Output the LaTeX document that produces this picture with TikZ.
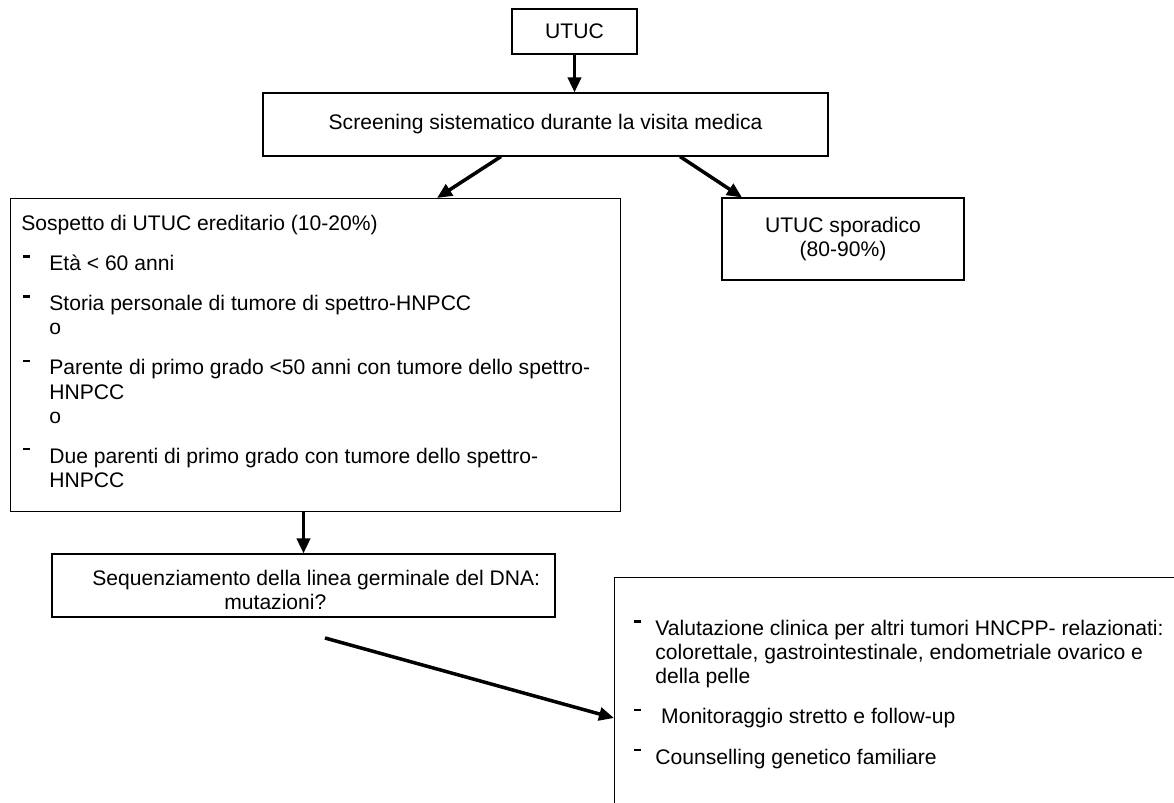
\documentclass[tikz,border=0pt]{standalone}
\usepackage{fontspec}
\setmainfont{Liberation Sans}
\usetikzlibrary{arrows.meta}
\usetikzlibrary{positioning}
\tikzset{box/.style = {draw, line width=0.6pt, inner sep=0pt},
         freccia/.style = {-{Triangle[length=0.3cm, width=0.26cm]}, line width=2pt},
         testo/.style = {inner sep=0pt, align=left, anchor=north west}}
\newcommand{\trattino}[1][0.56cm]{\makebox[#1][l]{\hspace{0.04cm}\rule[0.62em]{0.32em}{0.11em}}}
\newcommand{\rientro}[1][0.56cm]{\hspace*{#1}}

\begin{document}
\begin{tikzpicture}[font=\fontsize{12}{13.7}\selectfont]
    \useasboundingbox (0, 0) rectangle (23.48, -16.06);

    \node [box, minimum width=2.5cm, minimum height=0.9cm] (utuc) at (11.49, -0.63) {UTUC};
    \node [box, minimum width=11.3cm, minimum height=1.26cm] (screening) at (10.91, -2.49)
        {Screening sistematico durante la visita medica};
    \draw [freccia] (utuc.south) -- (utuc.south |- screening.north);

    % sospetto ereditario
    \node [box, anchor=north west, minimum width=12.2cm, minimum height=6.26cm] (ereditario) at (0.2, -3.96) {};
    \node [testo] (sospetto) at (0.42, -4.3)
        {Sospetto di UTUC ereditario (10-20\%)\\[0.32cm]
        \trattino Età < 60 anni\\[0.32cm]
        \trattino Storia personale di tumore di spettro-HNPCC\\
        \rientro o\\[0.32cm]
        \trattino Parente di primo grado <50 anni con tumore dello spettro-\\
        \rientro HNPCC\\
        \rientro o\\[0.32cm]
        \trattino Due parenti di primo grado con tumore dello spettro-\\
        \rientro HNPCC};

    \node [box, minimum width=4.84cm, minimum height=1.64cm, align=center] (sporadico) at (16.86, -4.78)
        {UTUC sporadico\\(80-90\%)};

    \draw [freccia] (screening.south -| 10.02, 0) -- (ereditario.north -| 8.74, 0);
    \draw [freccia] (screening.south -| 13.6, 0) -- (sporadico.north west -| 14.84, 0);

    % sequenziamento
    \node [box, minimum width=10.06cm, minimum height=1.26cm] (sequenziamento) at (6.07, -11.71) {};
    \node [testo] (mutazioni) at (1.84, -11.4)
        {Sequenziamento della linea germinale del DNA:\\
        \rientro[2.64cm]mutazioni?};
    \draw [freccia] (ereditario.south -| sequenziamento.north) -- (sequenziamento.north);

    % gestione
    \node [box, anchor=north west, minimum width=12cm, minimum height=6cm] (gestione) at (12.28, -11.54) {};
    \node [testo] (valutazione) at (12.64, -12.4)
        {\trattino[0.46cm]Valutazione clinica per altri tumori HNCPP- relazionati:\\
        \rientro[0.46cm]colorettale, gastrointestinale, endometriale ovarico e\\
        \rientro[0.46cm]della pelle\\[0.32cm]
        \trattino[0.46cm]\ Monitoraggio stretto e follow-up\\[0.32cm]
        \trattino[0.46cm]Counselling genetico familiare};

    \coordinate (partenza) at (6.5, -12.76);
    \draw [freccia] (partenza) -- (gestione.west |- 0, -14.36);
\end{tikzpicture}
\end{document}
